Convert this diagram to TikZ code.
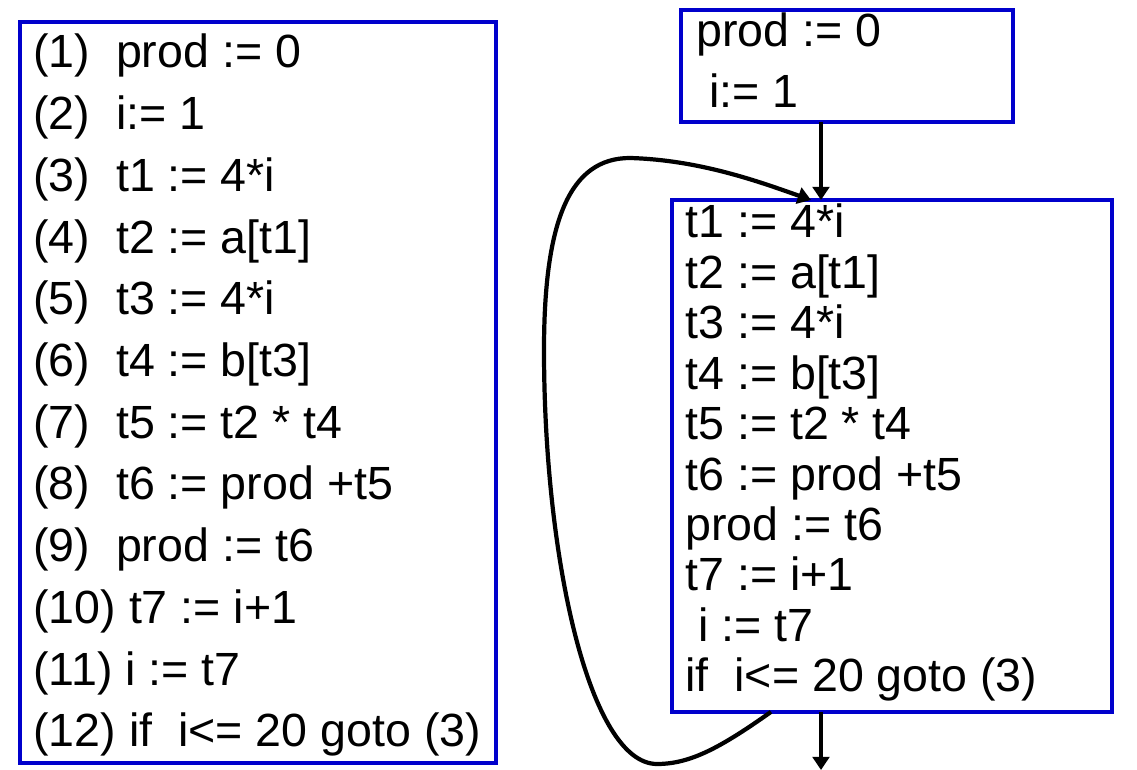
\documentclass[tikz,border=0pt]{standalone}
\usepackage{fontspec}
\setmainfont{Liberation Sans}
\usetikzlibrary{arrows.meta}
\definecolor{boxblue}{RGB}{0,0,204}

\begin{document}
\begin{tikzpicture}[x=0.02cm,y=-0.02cm,
    codebox/.style={draw=boxblue,line width=2.5pt,inner sep=0pt,outer sep=0pt,anchor=north west},
    codeline/.style={anchor=base west,inner sep=0pt,font=\fontsize{26.5}{31}\selectfont},
    flow/.style={line width=2.4pt,-{Triangle[length=7.5pt,width=9.5pt]}}]
    \useasboundingbox (0,0) rectangle (1137,770);

    % Draw the three-address code
    \node[codebox,minimum width=9.52cm,minimum height=14.82cm] (prog) at (20,22) {};
    \foreach \txt [count=\k] in {{(1)~~prod := 0},{(2)~~i:= 1},{(3)~~t1 := 4*i},
        {(4)~~t2 := a[t1]},{(5)~~t3 := 4*i},{(6)~~t4 := b[t3]},{(7)~~t5 := t2 * t4},
        {(8)~~t6 := prod +t5},{(9)~~prod := t6},{(10) t7 := i+1},{(11) i := t7},
        {(12) if~~i<= 20 goto (3)}}
        \node[codeline] (l\k) at (33,{68+61.7*(\k-1)}) {\txt};

    % Draw the basic blocks
    \node[codebox,minimum width=6.64cm,minimum height=2.24cm] (init) at (681,10) {};
    \node[codeline] (i1) at (696,47) {prod := 0};
    \node[codeline] (i2) at (696,108) {\ i:= 1};

    \node[codebox,minimum width=8.8cm,minimum height=10.24cm] (body) at (672,200) {};
    \foreach \txt [count=\k] in {{t1 := 4*i},{t2 := a[t1]},{t3 := 4*i},{t4 := b[t3]},
        {t5 := t2 * t4},{t6 := prod +t5},{prod := t6},{t7 := i+1},{\ i := t7},
        {if~~i<= 20 goto (3)}}
        \node[codeline] (b\k) at (685,{238+50.4*(\k-1)}) {\txt};

    % Draw the control flow
    \coordinate (entry) at (821,200);
    \coordinate (back) at (771,712);
    \coordinate (loopin) at (811,200);
    \coordinate (exit) at (821,770);
    \draw[flow] (init.south -| entry) -- (body.north -| entry);
    \draw[flow] (body.south -| back) .. controls (720,748) and (690,764) .. (657,764)
        .. controls (590,764) and (544,560) .. (544,350)
        .. controls (544,220) and (570,158) .. (630,158)
        .. controls (700,160) and (760,182) .. (body.north -| loopin);
    \draw[flow] (body.south -| exit) -- (exit);
\end{tikzpicture}
\end{document}
